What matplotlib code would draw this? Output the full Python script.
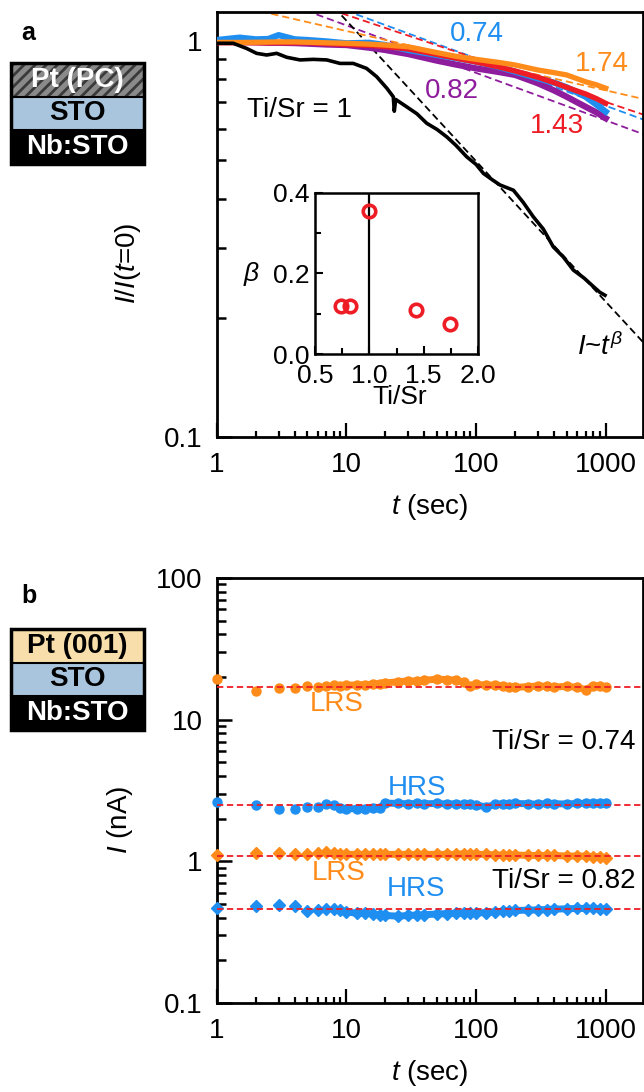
import matplotlib
matplotlib.use("Agg")
import matplotlib.pyplot as plt
from matplotlib.patches import Rectangle
from matplotlib.ticker import FixedLocator, LogLocator, NullFormatter

plt.rcParams['font.family'] = ['Liberation Sans', 'DejaVu Sans']
plt.rcParams['mathtext.fontset'] = 'custom'
plt.rcParams['mathtext.rm'] = 'Liberation Sans'
plt.rcParams['mathtext.it'] = 'Liberation Sans:italic'
plt.rcParams['hatch.linewidth'] = 2.0

# ---- panel a: normalised current decay ----
black_t = [1, 1.34, 1.70, 2.03, 2.43, 2.9, 3.46, 4.39, 5.56, 7.05, 8.93, 11.3, 14.3, 17.1,
           20.5, 23.0, 23.4, 24.0, 29.2, 35, 41.6, 50, 59.3, 70, 84.7, 100, 114, 135, 153,
           194, 230, 276, 330, 394, 470, 562, 680, 801, 900, 986]
black_I = [0.987, 0.987, 0.958, 0.931, 0.922, 0.931, 0.910, 0.896, 0.899, 0.896, 0.878, 0.878,
           0.853, 0.813, 0.760, 0.723, 0.665, 0.712, 0.682, 0.655, 0.620, 0.598, 0.573, 0.545,
           0.510, 0.488, 0.463, 0.445, 0.433, 0.420, 0.392, 0.360, 0.335, 0.302, 0.285, 0.264,
           0.252, 0.240, 0.232, 0.228]

col_t = [1, 1.5, 2, 2.5, 3, 4, 5, 7, 10, 15, 20, 30, 50, 70, 100, 150, 200, 300, 400, 500,
         700, 850, 1000]
blue_I = [1.006, 1.02, 1.01, 1.012, 1.035, 1.01, 1.006, 0.998, 0.987, 0.99, 0.977, 0.949,
          0.922, 0.905, 0.887, 0.86, 0.837, 0.805, 0.785, 0.764, 0.723, 0.69, 0.663]
red_I = [0.99, 0.99, 0.99, 0.99, 0.99, 0.99, 0.99, 0.985, 0.98, 0.975, 0.968, 0.955, 0.925,
         0.905, 0.885, 0.86, 0.84, 0.81, 0.785, 0.764, 0.735, 0.715, 0.696]
orange_I = [0.992, 0.992, 0.993, 0.994, 0.995, 0.995, 0.993, 0.99, 0.987, 0.982, 0.977, 0.967,
            0.935, 0.915, 0.899, 0.883, 0.870, 0.845, 0.832, 0.821, 0.789, 0.775, 0.760]
purple_I = [0.995, 0.995, 0.993, 0.99, 0.99, 0.988, 0.985, 0.98, 0.977, 0.962, 0.949, 0.927,
            0.892, 0.872, 0.853, 0.835, 0.821, 0.782, 0.75, 0.723, 0.682, 0.66, 0.638]

# power-law fits I = A * t^-beta, in order 0.74, 0.82, 1, 1.43, 1.74
ti_sr = [0.74, 0.82, 1.0, 1.43, 1.74]
beta = [0.12, 0.12, 0.355, 0.11, 0.075]
prefac = [1.572, 1.444, 2.55, 1.50, 1.26]
fit_t = [1, 2000]

# ---- panel b: retention ----
t_b = [1, 2, 3, 4, 5, 6, 7, 8, 9, 10, 12, 14, 16, 18, 20, 25, 30, 35, 40, 50, 60, 70, 80, 90,
       100, 120, 140, 160, 180, 200, 250, 300, 350, 400, 500, 600, 700, 800, 900, 1000]
lrs_074 = [19.3, 16.0, 16.6, 16.6, 17.3, 17.0, 17.4, 17.6, 17.3, 17.5, 17.6, 17.7, 17.8, 18.0,
           18.2, 18.5, 18.8, 18.7, 19.0, 19.3, 19.2, 19.0, 18.4, 17.2, 17.8, 17.5, 17.6, 17.3,
           17.0, 16.9, 17.1, 17.3, 17.2, 17.0, 17.2, 16.9, 16.3, 17.4, 17.2, 17.1]
hrs_074 = [2.64, 2.50, 2.33, 2.35, 2.40, 2.40, 2.53, 2.50, 2.38, 2.35, 2.35, 2.36, 2.37, 2.38,
           2.58, 2.56, 2.55, 2.56, 2.55, 2.56, 2.54, 2.55, 2.52, 2.55, 2.50, 2.42, 2.52, 2.55,
           2.54, 2.56, 2.55, 2.53, 2.56, 2.55, 2.54, 2.56, 2.57, 2.57, 2.58, 2.60]
lrs_082 = [1.11, 1.14, 1.14, 1.13, 1.13, 1.14, 1.16, 1.14, 1.13, 1.12, 1.12, 1.12, 1.12, 1.12,
           1.12, 1.12, 1.12, 1.12, 1.12, 1.12, 1.12, 1.12, 1.13, 1.12, 1.12, 1.12, 1.11, 1.11,
           1.11, 1.11, 1.10, 1.10, 1.10, 1.10, 1.09, 1.09, 1.09, 1.08, 1.08, 1.06]
hrs_082 = [0.47, 0.484, 0.49, 0.484, 0.447, 0.455, 0.458, 0.46, 0.455, 0.44, 0.43, 0.43, 0.425,
           0.42, 0.415, 0.41, 0.415, 0.418, 0.42, 0.425, 0.428, 0.43, 0.43, 0.43, 0.432, 0.435,
           0.44, 0.445, 0.447, 0.45, 0.452, 0.455, 0.457, 0.46, 0.462, 0.465, 0.465, 0.465,
           0.463, 0.46]
ref_levels = [17.1, 2.49, 1.09, 0.459]

BLUE = '#1f8ef1'
ORANGE = '#ff8c1a'
PURPLE = '#8e1c9c'
RED = '#ee1c25'
FS = 20

W, H = 644, 1092
fig = plt.figure(figsize=(W / 100, H / 100), dpi=100)


def px_axes(x0, y0, x1, y1):
    return fig.add_axes([x0 / W, 1 - y1 / H, (x1 - x0) / W, (y1 - y0) / H])


def style_log(ax):
    for s in ax.spines.values():
        s.set_linewidth(2)
    ax.set_xscale('log')
    ax.set_yscale('log')
    ax.set_xlim(1, 1936)
    ax.xaxis.set_major_locator(FixedLocator([1, 10, 100, 1000]))
    ax.set_xticklabels(['1', '10', '100', '1000'])
    ax.xaxis.set_minor_locator(LogLocator(base=10, subs=range(2, 10)))
    ax.xaxis.set_minor_formatter(NullFormatter())
    ax.yaxis.set_minor_locator(LogLocator(base=10, subs=range(2, 10)))
    ax.yaxis.set_minor_formatter(NullFormatter())
    ax.tick_params(which='both', direction='in', top=False, right=False, labelsize=FS)
    ax.tick_params(axis='x', which='major', length=10, width=1.6, pad=11)
    ax.tick_params(axis='x', which='minor', length=4, width=1.6)
    ax.tick_params(axis='y', which='major', length=11, width=1.8, pad=10)
    ax.tick_params(axis='y', which='minor', length=6.5, width=1.8)


def stack(x0, y0, x1, y1, top_label, top_color, hatched):
    sa = px_axes(x0, y0, x1, y1)
    sa.set_xlim(0, 1)
    sa.set_ylim(0, 3)
    sa.axis('off')
    if hatched:
        sa.add_patch(Rectangle((0, 2), 1, 1, facecolor=top_color, edgecolor='#3a3a3a',
                               hatch='///', lw=0))
        tc = 'white'
    else:
        sa.add_patch(Rectangle((0, 2), 1, 1, facecolor=top_color, lw=0))
        tc = 'black'
    sa.add_patch(Rectangle((0, 1), 1, 1, facecolor='#a9c5de', lw=0))
    sa.add_patch(Rectangle((0, 0), 1, 1, facecolor='black', lw=0))
    for yy in (1, 2):
        sa.plot([0, 1], [yy, yy], color='black', lw=1.5)
    sa.add_patch(Rectangle((0, 0), 1, 3, facecolor='none', edgecolor='black', lw=2.5,
                           clip_on=False))
    sa.text(0.5, 2.5, top_label, ha='center', va='center', fontsize=FS, fontweight='bold',
            color=tc)
    sa.text(0.5, 1.5, 'STO', ha='center', va='center', fontsize=FS, fontweight='bold')
    sa.text(0.5, 0.5, 'Nb:STO', ha='center', va='center', fontsize=FS, fontweight='bold',
            color='white')


def tx(a, x, y, s, bottom, **kw):
    # place text by reference pixel position (left edge x, centre y)
    a.text((x - 216.7) / 426.3, (bottom - y) / 425, s, transform=a.transAxes, fontsize=FS,
           va='center', **kw)


# ================= panel a =================
ax = px_axes(216.7, 12, 643, 437)
style_log(ax)
ax.set_ylim(0.1, 1.184)
ax.yaxis.set_major_locator(FixedLocator([0.1, 1]))
ax.set_yticklabels(['0.1', '1'])

fit_cols = [BLUE, PURPLE, 'black', RED, ORANGE]
for A, b, c in zip(prefac, beta, fit_cols):
    ax.plot(fit_t, [A * t ** (-b) for t in fit_t], color=c, lw=1.3, dashes=(4, 2.2), zorder=2)

ax.plot(col_t, purple_I, color=PURPLE, lw=4.5, zorder=3)
ax.plot(col_t, blue_I, color=BLUE, lw=4.5, zorder=3)
ax.plot(col_t, red_I, color=RED, lw=3.8, zorder=3)
ax.plot(col_t, orange_I, color=ORANGE, lw=3.8, zorder=3)
ax.plot(black_t, black_I, color='black', lw=2.6, zorder=4)

tx(ax, 450, 34, '0.74', 437, color=BLUE)
tx(ax, 575, 64, '1.74', 437, color=ORANGE)
tx(ax, 425, 91, '0.82', 437, color=PURPLE)
tx(ax, 530, 126, '1.43', 437, color=RED)
tx(ax, 247, 110, 'Ti/Sr = 1', 437, color='black')
tx(ax, 577, 347, r'$I$~$t^{\beta}$', 437, color='black')

fig.text(128 / W, 1 - 263 / H, r'$I$/$I$($t$=0)', rotation=90, ha='center', va='center',
         fontsize=FS)
fig.text(430 / W, 1 - 507 / H, r'$t$ (sec)', ha='center', va='center', fontsize=FS)
fig.text(21 / W, 1 - 33 / H, 'a', ha='left', va='center', fontsize=18, fontweight='bold')
stack(11, 63, 144, 164, 'Pt (PC)', '#8a8a8a', True)

# inset
ins = px_axes(315, 193, 478, 354)
for s in ins.spines.values():
    s.set_linewidth(1.8)
ins.set_xlim(0.5, 2.0)
ins.set_ylim(0, 0.4)
ins.set_xticks([0.5, 1.0, 1.5, 2.0])
ins.set_xticklabels(['0.5', '1.0', '1.5', '2.0'])
ins.set_yticks([0.0, 0.2, 0.4])
ins.set_yticklabels(['0.0', '0.2', '0.4'])
ins.set_xticks([0.75, 1.25, 1.75], minor=True)
ins.set_yticks([0.1, 0.3], minor=True)
ins.tick_params(which='both', direction='in', top=False, right=False, labelsize=19, width=1.5)
ins.tick_params(which='major', length=6)
ins.tick_params(axis='x', which='major', pad=7)
ins.tick_params(axis='y', which='major', pad=4)
ins.tick_params(which='minor', length=4)
ins.axvline(1.0, color='black', lw=1.6)
ins.plot(ti_sr, beta, ls='none', marker='o', ms=9, mfc='none', mec=RED, mew=2.6)
ins.text(0.52, -0.27, 'Ti/Sr', transform=ins.transAxes, ha='center', va='center', fontsize=19)
ins.text(-0.39, 0.5, r'$\beta$', transform=ins.transAxes, ha='center', va='center',
         fontsize=19)

# ================= panel b =================
bx = px_axes(216.7, 578, 643, 1003)
style_log(bx)
bx.set_ylim(0.1, 100)
bx.yaxis.set_major_locator(FixedLocator([0.1, 1, 10, 100]))
bx.set_yticklabels(['0.1', '1', '10', '100'])

for lv in ref_levels:
    bx.axhline(lv, color=RED, lw=1.3, dashes=(3.5, 2), zorder=5)

series = [(lrs_074, ORANGE, 'o'), (hrs_074, BLUE, 'o'), (lrs_082, ORANGE, 'D'),
          (hrs_082, BLUE, 'D')]
for vals, c, m in series:
    bx.plot(t_b[7:], vals[7:], color=c, lw=5, solid_capstyle='round', zorder=3)
    bx.plot(t_b, vals, ls='none', marker=m, ms=6.5 if m == 'o' else 6, color=c, mec=c,
            zorder=4, clip_on=False)

tx(bx, 310, 704, 'LRS', 1003, color=ORANGE)
tx(bx, 388, 788, 'HRS', 1003, color=BLUE)
tx(bx, 312, 873, 'LRS', 1003, color=ORANGE)
tx(bx, 387, 889, 'HRS', 1003, color=BLUE)
bx.text((635 - 216.7) / 426.3, (1003 - 742) / 425, 'Ti/Sr = 0.74', transform=bx.transAxes,
        fontsize=FS, ha='right', va='center')
bx.text((635 - 216.7) / 426.3, (1003 - 881) / 425, 'Ti/Sr = 0.82', transform=bx.transAxes,
        fontsize=FS, ha='right', va='center')

fig.text(120 / W, 1 - 820 / H, r'$I$ (nA)', rotation=90, ha='center', va='center',
         fontsize=FS)
fig.text(430 / W, 1 - 1073 / H, r'$t$ (sec)', ha='center', va='center', fontsize=FS)
fig.text(21 / W, 1 - 596 / H, 'b', ha='left', va='center', fontsize=18, fontweight='bold')
stack(11, 629, 144, 730, 'Pt (001)', '#f8deaa', False)

fig.savefig('out.png', dpi=100)
